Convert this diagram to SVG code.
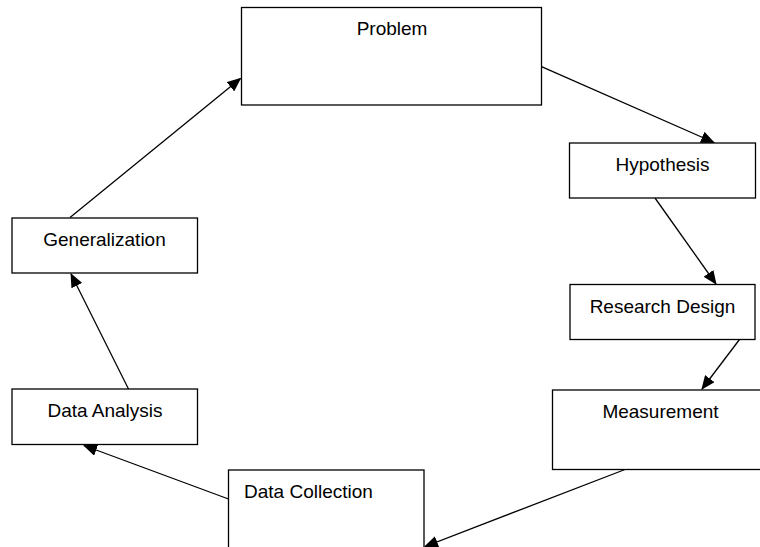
<svg xmlns="http://www.w3.org/2000/svg" width="760" height="547" viewBox="0 0 760 547">
<style>
.box{fill:#fff;stroke:#000;stroke-width:1.3}
.lbl{font-family:"Liberation Sans",Arial,sans-serif;font-size:19px;fill:#000}
.c{text-anchor:middle}
.conn line{stroke:#000;stroke-width:1.3;marker-end:url(#ah)}
</style>
<defs>
<marker id="ah" markerUnits="userSpaceOnUse" markerWidth="14" markerHeight="12" viewBox="0 0 14 12" refX="13" refY="6" orient="auto">
<path d="M0,0 L14,6 L0,12 Z" fill="#000"/>
</marker>
</defs>
<rect width="760" height="547" fill="#fff"/>
<g id="problem"><rect class="box" x="241.5" y="7.5" width="300" height="97.5"/><text class="lbl c" x="392" y="35">Problem</text></g>
<g id="hypothesis"><rect class="box" x="569.5" y="143" width="186" height="55"/><text class="lbl c" x="662.5" y="171">Hypothesis</text></g>
<g id="research-design"><rect class="box" x="570" y="284.5" width="185" height="55"/><text class="lbl c" x="662.5" y="313">Research Design</text></g>
<g id="measurement"><rect class="box" x="552.5" y="390" width="215" height="79.5"/><text class="lbl c" x="660.5" y="418">Measurement</text></g>
<g id="data-collection"><rect class="box" x="228.5" y="470" width="195.5" height="90"/><text class="lbl" x="244" y="498">Data Collection</text></g>
<g id="data-analysis"><rect class="box" x="12" y="389" width="185.5" height="55.5"/><text class="lbl c" x="105" y="416.5">Data Analysis</text></g>
<g id="generalization"><rect class="box" x="12" y="218" width="185.5" height="55"/><text class="lbl c" x="104.5" y="245.5">Generalization</text></g>
<g id="connectors" class="conn">
<line x1="541.5" y1="66.7" x2="714" y2="142.5"/>
<line x1="655" y1="198" x2="716" y2="284"/>
<line x1="739.5" y1="339.5" x2="702" y2="389"/>
<line x1="625" y1="469.5" x2="425" y2="546.5"/>
<line x1="228.5" y1="499" x2="84" y2="445.5"/>
<line x1="128.5" y1="389" x2="71" y2="274"/>
<line x1="70" y1="217.5" x2="240.5" y2="78.5"/>
</g>
</svg>
